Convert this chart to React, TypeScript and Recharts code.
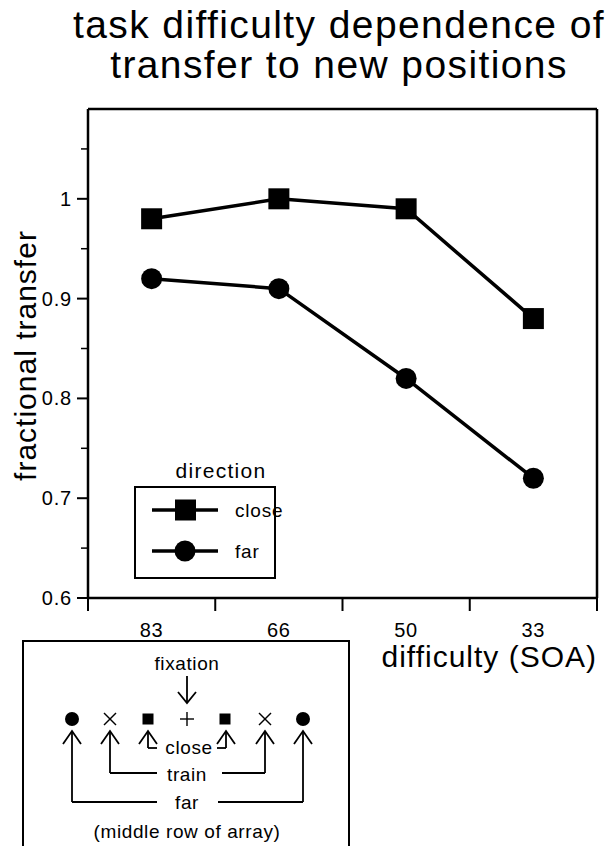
import { LineChart, Line, XAxis, YAxis, Legend } from "recharts";

const categories = ["83", "66", "50", "33"];
const closeValues = [0.98, 1.0, 0.99, 0.88];
const farValues = [0.92, 0.91, 0.82, 0.72];
const yMajorTicks = [0.6, 0.7, 0.8, 0.9, 1];
const yMinorTicks = [0.65, 0.75, 0.85, 0.95, 1.05];
const xBoundaryTicks = [0, 1, 2, 3, 4];

const FONT = '"Liberation Sans", Arial, Helvetica, sans-serif';

const data = categories.map((c, i) => ({
  pos: i + 0.5,
  label: c,
  close: closeValues[i],
  far: farValues[i],
}));

const xTicks = [...xBoundaryTicks, ...categories.map((_, i) => i + 0.5)].sort((a, b) => a - b);
const yTicks = [...yMajorTicks, ...yMinorTicks].sort((a, b) => a - b);

function XTick(props: any) {
  const { x, y, payload } = props;
  const v = payload.value;
  if (Number.isInteger(v)) {
    return <line x1={x} x2={x} y1={y} y2={y + 13} stroke="#000" strokeWidth={2} />;
  }
  return (
    <text x={x} y={y + 39} textAnchor="middle" fontSize={20} fontFamily={FONT} fill="#000" letterSpacing={0.8}>
      {categories[Math.floor(v)]}
    </text>
  );
}

function YTick(props: any) {
  const { x, y, payload } = props;
  const v = payload.value;
  const major = yMajorTicks.some((t) => Math.abs(t - v) < 1e-6);
  if (!major) {
    return <line x1={x - 7} x2={x} y1={y} y2={y} stroke="#000" strokeWidth={1.5} />;
  }
  return (
    <g>
      <line x1={x - 11} x2={x} y1={y} y2={y} stroke="#000" strokeWidth={2} />
      <text x={x - 16} y={y + 7} textAnchor="end" fontSize={20} fontFamily={FONT} fill="#000" letterSpacing={0.8}>
        {String(v)}
      </text>
    </g>
  );
}

function SquareDot(props: any) {
  const { cx, cy } = props;
  if (cx == null || cy == null) return null;
  return <rect x={cx - 10.5} y={cy - 10.5} width={21} height={21} fill="#000" />;
}

function CircleDot(props: any) {
  const { cx, cy } = props;
  if (cx == null || cy == null) return null;
  return <circle cx={cx} cy={cy} r={10.5} fill="#000" />;
}

function YLabel(props: any) {
  const vb = props.viewBox;
  const cx = vb.x + vb.width - 63;
  const cy = vb.y + vb.height / 2 + 2;
  return (
    <text
      x={cx}
      y={cy}
      transform={`rotate(-90 ${cx} ${cy})`}
      textAnchor="middle"
      dominantBaseline="central"
      fontSize={30}
      fontFamily={FONT}
      fill="#000"
      letterSpacing={1}
    >
      fractional transfer
    </text>
  );
}

function XLabel(props: any) {
  const vb = props.viewBox;
  return (
    <text x={vb.x + vb.width} y={vb.y + 69} textAnchor="end" fontSize={30} fontFamily={FONT} fill="#000" letterSpacing={1}>
      difficulty (SOA)
    </text>
  );
}

function LegendBox(props: any) {
  const items = props.payload || [];
  return (
    <svg width={170} height={135} style={{ display: "block" }}>
      <text x={93} y={28} textAnchor="middle" fontSize={21} fontFamily={FONT} letterSpacing={1.3}>
        direction
      </text>
      <rect x={7} y={37} width={140} height={91} fill="none" stroke="#000" strokeWidth={2} />
      {items.map((it: any, i: number) => {
        const cy = 60 + i * 41;
        return (
          <g key={it.value}>
            <line x1={24} x2={90} y1={cy} y2={cy} stroke="#000" strokeWidth={3.5} />
            {i === 0 ? (
              <rect x={47} y={cy - 10.5} width={21} height={21} fill="#000" />
            ) : (
              <circle cx={57} cy={cy} r={10.5} fill="#000" />
            )}
            <text x={107} y={cy + 7} fontSize={19} fontFamily={FONT} letterSpacing={0.8}>
              {it.value}
            </text>
          </g>
        );
      })}
    </svg>
  );
}

function Cross({ x, y }: { x: number; y: number }) {
  return (
    <g stroke="#000" strokeWidth={1.4}>
      <line x1={x - 6} y1={y - 6} x2={x + 6} y2={y + 6} />
      <line x1={x - 6} y1={y + 6} x2={x + 6} y2={y - 6} />
    </g>
  );
}

function UpArrow({ x, tip, bottom }: { x: number; tip: number; bottom: number }) {
  return (
    <g stroke="#000" strokeWidth={1.8} fill="none">
      <line x1={x} y1={tip} x2={x} y2={bottom} />
      <polyline points={`${x - 9},${tip + 13} ${x},${tip} ${x + 9},${tip + 13}`} />
    </g>
  );
}

function Inset() {
  const t = { fontSize: 19, fontFamily: FONT, fill: "#000", letterSpacing: 0.6 } as const;
  return (
    <svg width={610} height={846} style={{ position: "absolute", left: 0, top: 0, pointerEvents: "none" }}>
      <path d="M23,846 V641 H349 V846" fill="none" stroke="#000" strokeWidth={2} />
      <text x={187} y={670} textAnchor="middle" {...t}>fixation</text>
      <g stroke="#000" strokeWidth={1.8} fill="none">
        <line x1={187} y1={676} x2={187} y2={703} />
        <polyline points="178,692 187,703 196,692" />
      </g>
      <circle cx={72} cy={719} r={7} fill="#000" />
      <Cross x={110} y={719} />
      <rect x={142.5} y={713.5} width={11} height={11} fill="#000" />
      <g stroke="#000" strokeWidth={1.4}>
        <line x1={180} y1={719} x2={194} y2={719} />
        <line x1={187} y1={712} x2={187} y2={726} />
      </g>
      <rect x={219.5} y={713.5} width={11} height={11} fill="#000" />
      <Cross x={265} y={719} />
      <circle cx={303} cy={719} r={7} fill="#000" />

      <UpArrow x={148} tip={731} bottom={748} />
      <UpArrow x={226} tip={731} bottom={748} />
      <g stroke="#000" strokeWidth={1.8} fill="none">
        <line x1={148} y1={748} x2={157} y2={748} />
        <line x1={226} y1={748} x2={217} y2={748} />
      </g>
      <text x={189} y={754} textAnchor="middle" {...t}>close</text>

      <UpArrow x={110} tip={731} bottom={773} />
      <UpArrow x={265} tip={731} bottom={773} />
      <g stroke="#000" strokeWidth={1.8} fill="none">
        <line x1={110} y1={773} x2={157} y2={773} />
        <line x1={222} y1={773} x2={265} y2={773} />
      </g>
      <text x={187} y={781} textAnchor="middle" {...t}>train</text>

      <UpArrow x={72} tip={731} bottom={802} />
      <UpArrow x={303} tip={731} bottom={802} />
      <g stroke="#000" strokeWidth={1.8} fill="none">
        <line x1={72} y1={802} x2={157} y2={802} />
        <line x1={218} y1={802} x2={303} y2={802} />
      </g>
      <text x={187} y={809} textAnchor="middle" {...t}>far</text>

      <text x={187} y={838} textAnchor="middle" {...t}>(middle row of array)</text>
    </svg>
  );
}

export default function App() {
  return (
    <div style={{ position: "absolute", left: 0, top: 0, width: 610, height: 846, background: "#fff", fontFamily: FONT }}>
      <div
        style={{
          position: "absolute",
          left: 0,
          top: 5,
          width: 678,
          textAlign: "center",
          fontSize: 39,
          lineHeight: "40px",
          letterSpacing: 1.4,
          color: "#000",
        }}
      >
        task difficulty dependence of
        <br />
        transfer to new positions
      </div>
      <LineChart width={610} height={846} data={data} margin={{ top: 108, right: 12, bottom: 198, left: 28 }}>
        <XAxis
          xAxisId="main"
          dataKey="pos"
          type="number"
          domain={[0, 4]}
          ticks={xTicks}
          interval={0}
          tick={<XTick />}
          tickLine={false}
          tickSize={0}
          tickMargin={0}
          height={50}
          axisLine={{ stroke: "#000", strokeWidth: 2.5 }}
          label={<XLabel />}
        />
        <XAxis
          xAxisId="top"
          orientation="top"
          type="number"
          domain={[0, 4]}
          tick={false}
          tickLine={false}
          height={1}
          axisLine={{ stroke: "#000", strokeWidth: 2.5 }}
        />
        <YAxis
          yAxisId="main"
          type="number"
          domain={[0.6, 1.09]}
          ticks={yTicks}
          interval={0}
          tick={<YTick />}
          tickLine={false}
          tickSize={0}
          tickMargin={0}
          width={60}
          allowDataOverflow
          axisLine={{ stroke: "#000", strokeWidth: 2.5 }}
          label={<YLabel />}
        />
        <YAxis
          yAxisId="right"
          orientation="right"
          type="number"
          domain={[0.6, 1.09]}
          tick={false}
          tickLine={false}
          width={1}
          axisLine={{ stroke: "#000", strokeWidth: 2.5 }}
        />
        <Legend
          content={<LegendBox />}
          layout="horizontal"
          verticalAlign="middle"
          align="center"
          wrapperStyle={{ position: "absolute", left: 128, top: 450, width: 170, height: 135 }}
        />
        <Line
          xAxisId="main"
          yAxisId="main"
          dataKey="close"
          name="close"
          stroke="#000"
          strokeWidth={3.5}
          dot={<SquareDot />}
          isAnimationActive={false}
        />
        <Line
          xAxisId="main"
          yAxisId="main"
          dataKey="far"
          name="far"
          stroke="#000"
          strokeWidth={3.5}
          dot={<CircleDot />}
          isAnimationActive={false}
        />
      </LineChart>
      <Inset />
    </div>
  );
}
